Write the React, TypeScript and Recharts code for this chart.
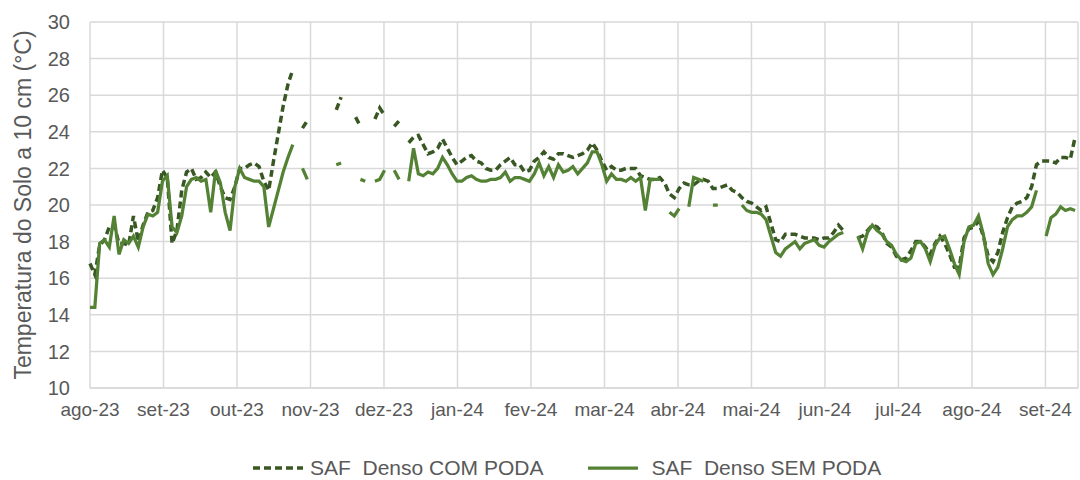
import { CartesianGrid, Legend, Line, LineChart, XAxis, YAxis } from 'recharts'

const FONTE = '"Liberation Sans", Arial, sans-serif'
const COR_COM = '#385723'
const COR_SEM = '#548235'
const COR_TEXTO = '#595959'
const COR_GRADE = '#d9d9d9'

const MESES = [
  'ago-23',
  'set-23',
  'out-23',
  'nov-23',
  'dez-23',
  'jan-24',
  'fev-24',
  'mar-24',
  'abr-24',
  'mai-24',
  'jun-24',
  'jul-24',
  'ago-24',
  'set-24',
]

const Y_TICKS = [10, 12, 14, 16, 18, 20, 22, 24, 26, 28, 30]

// leitura a cada 2 dias, a partir de 01/08/2023
const PASSO_DIAS = 2
const DIAS_POR_MES = 30.44

const COM_PODA = [
  16.8, 16.2, 17.8, 18.1, 18.8, 18.9, 17.9, 17.9, 17.8, 19.4,
  18.0, 18.9, 19.6, 19.7, 20.4, 21.9, 21.5, 17.9, 18.6, 20.8,
  21.8, 22.0, 21.4, 21.5, 21.8, 21.5, 21.8, 21.0, 20.4, 20.3,
  21.0, 22.0, 22.0, 22.2, 22.3, 22.1, 21.3, 20.8, 22.4, 23.9,
  25.4, 26.6, 27.4, null, 24.2, 24.6, null, null, null, null,
  null, 25.2, 25.9, null, null, 24.8, 24.3, null, null, 24.7,
  25.3, 24.9, null, 24.3, 24.6, null, 23.4, 23.7, 23.8, 23.3,
  22.8, 22.9, 23.1, 23.6, 23.1, 22.6, 22.2, 22.4, 22.6, 22.7,
  22.4, 22.3, 22.0, 21.9, 21.9, 22.2, 22.4, 22.6, 22.2, 22.2,
  21.8, 21.9, 22.4, 22.6, 22.9, 22.6, 22.5, 22.8, 22.8, 22.7,
  22.6, 22.7, 22.8, 23.0, 23.4, 23.0, 22.4, 21.9, 22.1, 21.9,
  21.9, 22.0, 22.0, 22.0, 21.6, 21.5, 21.4, 21.4, 21.5, 21.2,
  20.6, 20.4, 20.9, 21.2, 21.1, 21.1, 21.3, 21.4, 21.3, 20.9,
  20.9, 21.0, 21.1, 20.8, 20.7, 20.4, 20.2, 20.1, 19.9, 19.7,
  19.9, 19.0, 18.1, 18.0, 18.4, 18.4, 18.4, 18.3, 18.2, 18.2,
  18.2, 18.1, 18.2, 18.2, 18.5, 18.9, 18.6, null, null, 18.2,
  18.3, 18.6, 18.9, 18.8, 18.5, 17.9, 17.7, 17.2, 17.0, 17.1,
  17.5, 18.0, 18.0, 17.7, 17.3, 17.9, 18.3, 17.9, 17.3, 16.6,
  16.6, 18.2, 18.7, 18.8, 19.1, 18.3, 17.2, 16.9, 17.4, 18.5,
  19.3, 19.9, 20.1, 20.2, 20.4, 21.0, 22.2, 22.4, 22.4, 22.4,
  22.3, 22.6, 22.6, 22.5, 23.7,
]

const SEM_PODA = [
  14.4, 14.4, 17.9, 18.1, 17.7, 19.4, 17.3, 18.1, 17.9, 18.3,
  17.7, 18.8, 19.5, 19.4, 19.6, 21.3, 21.6, 18.8, 18.5, 19.4,
  21.0, 21.4, 21.5, 21.3, 21.4, 19.6, 21.9, 21.2, 19.6, 18.6,
  21.0, 22.0, 21.5, 21.4, 21.3, 21.3, 21.0, 18.8, 19.8, 20.8,
  21.8, 22.6, 23.3, null, 22.0, 21.4, null, null, null, null,
  null, 22.2, 22.3, null, null, null, 21.4, 21.3, null, 21.3,
  21.4, 21.9, null, 21.9, 21.4, null, 21.3, 23.1, 21.7, 21.6,
  21.8, 21.7, 22.0, 22.6, 22.2, 21.7, 21.3, 21.3, 21.5, 21.6,
  21.4, 21.3, 21.3, 21.4, 21.4, 21.5, 21.8, 21.3, 21.5, 21.5,
  21.4, 21.3, 21.7, 22.3, 21.6, 22.1, 21.5, 22.2, 21.8, 21.9,
  22.1, 21.7, 22.0, 22.3, 22.9, 22.9, 22.2, 21.3, 21.7, 21.4,
  21.4, 21.3, 21.5, 21.3, 21.5, 19.7, 21.4, 21.4, 21.4, null,
  19.6, 19.4, 19.8, null, 19.9, 21.5, 21.4, 21.3, null, 20.0,
  20.0, null, null, null, null, 20.0, 19.7, 19.6, 19.6, 19.5,
  19.2, 18.3, 17.4, 17.2, 17.6, 17.8, 18.0, 17.6, 17.9, 18.0,
  18.1, 17.8, 17.7, 18.0, 18.2, 18.4, 18.5, null, null, 18.3,
  17.6, 18.5, 18.9, 18.6, 18.4, 18.0, 17.8, 17.3, 17.0, 16.9,
  17.1, 17.9, 18.0, 17.6, 16.9, 17.8, 18.2, 18.3, 17.6, 16.8,
  16.2, 18.0, 18.8, 18.9, 19.4, 18.4, 16.8, 16.2, 16.6, 17.6,
  18.8, 19.2, 19.4, 19.4, 19.6, 19.9, 20.8, null, 18.3, 19.3,
  19.5, 19.9, 19.7, 19.8, 19.7,
]

const data = COM_PODA.map((v, i) => ({
  dia: i * PASSO_DIAS,
  com: v,
  sem: SEM_PODA[i],
}))

const mesTicks = MESES.map((_, i) => i * DIAS_POR_MES)

function Legenda() {
  return (
    <div
      style={{
        height: 32,
        boxSizing: 'border-box',
        paddingTop: 8,
        paddingLeft: 253,
        display: 'flex',
        alignItems: 'center',
        fontFamily: FONTE,
        fontSize: 21,
        color: COR_TEXTO,
        whiteSpace: 'pre',
      }}
    >
      <svg width={50} height={10}>
        <line x1={0} y1={5} x2={50} y2={5} stroke={COR_COM} strokeWidth={3.5} strokeDasharray="7 4" />
      </svg>
      <span style={{ marginLeft: 7 }}>SAF  Denso COM PODA</span>
      <svg width={50} height={10} style={{ marginLeft: 45 }}>
        <line x1={0} y1={5} x2={50} y2={5} stroke={COR_SEM} strokeWidth={3.25} />
      </svg>
      <span style={{ marginLeft: 13 }}>SAF  Denso SEM PODA</span>
    </div>
  )
}

export default function App() {
  return (
    <div
      style={{
        position: 'absolute',
        left: 0,
        top: 0,
        width: 1080,
        height: 480,
        background: '#fff',
        fontFamily: FONTE,
      }}
    >
      <LineChart
        width={1080}
        height={480}
        data={data}
        margin={{ top: 22, right: 2, bottom: 0, left: 0 }}
      >
        <CartesianGrid stroke={COR_GRADE} strokeWidth={1.5} />
        <XAxis
          type="number"
          dataKey="dia"
          domain={[0, 409.2]}
          ticks={mesTicks}
          interval={0}
          tickFormatter={(v) => MESES[Math.round(Number(v) / DIAS_POR_MES)] ?? ''}
          tickLine={false}
          tickSize={0}
          tickMargin={15}
          axisLine={{ stroke: COR_GRADE, strokeWidth: 1.5 }}
          height={60}
          tick={{ fontSize: 19, fill: COR_TEXTO }}
        />
        <YAxis
          type="number"
          domain={[10, 30]}
          ticks={Y_TICKS}
          interval={0}
          axisLine={false}
          tickLine={false}
          tickSize={0}
          tickMargin={20}
          width={90}
          tick={{ fontSize: 20, fill: COR_TEXTO }}
          label={{
            value: 'Temperatura do Solo a 10 cm (°C)',
            angle: -90,
            position: 'insideLeft',
            offset: 23,
            style: { textAnchor: 'middle', fontSize: 23, fill: COR_TEXTO },
          }}
        />
        <Legend verticalAlign="bottom" wrapperStyle={{ left: 0, width: 1080 }} content={() => <Legenda />} />
        <Line
          type="linear"
          dataKey="com"
          name="SAF  Denso COM PODA"
          stroke={COR_COM}
          strokeWidth={3.5}
          strokeDasharray="7 4"
          dot={false}
          activeDot={false}
          isAnimationActive={false}
        />
        <Line
          type="linear"
          dataKey="sem"
          name="SAF  Denso SEM PODA"
          stroke={COR_SEM}
          strokeWidth={3.25}
          dot={false}
          activeDot={false}
          isAnimationActive={false}
        />
      </LineChart>
    </div>
  )
}
